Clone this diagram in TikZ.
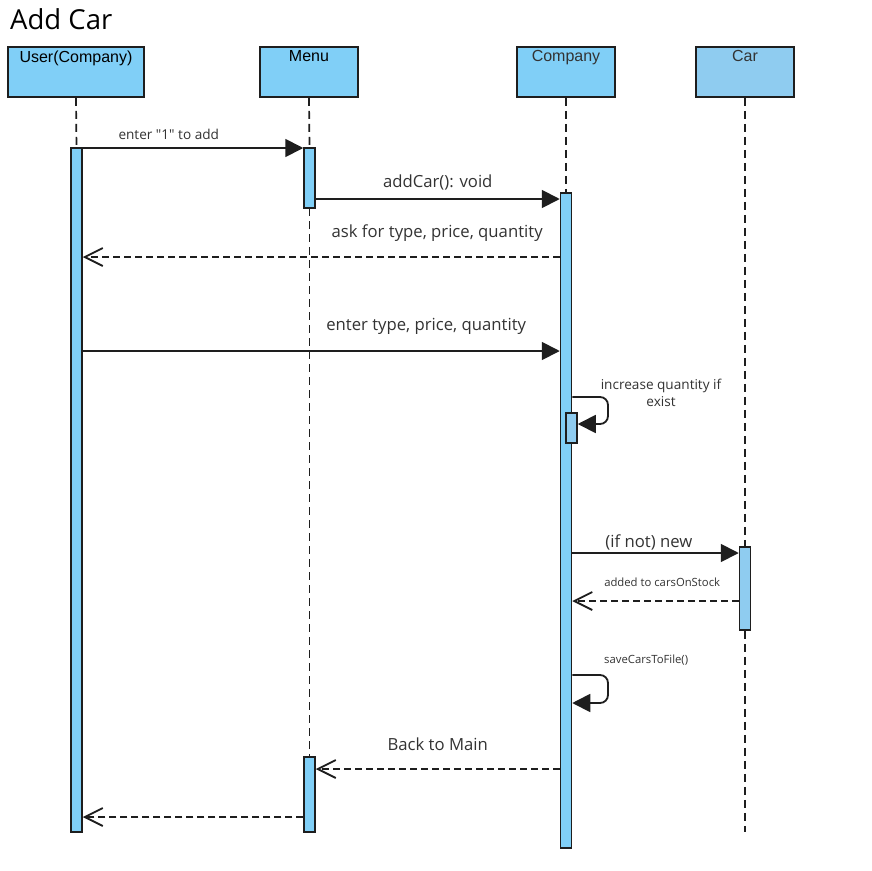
\documentclass[tikz,border=0pt]{standalone}
\usepackage{fontspec}
\setmainfont{Open Sans}[Ligatures=TeXOff]
\newfontfamily\headfont{Liberation Sans}
\usetikzlibrary{arrows.meta,positioning}
\definecolor{HeadBlue}{HTML}{80CFF7}
\definecolor{CarBlue}{HTML}{8FCCF0}
\definecolor{LineInk}{HTML}{1E1E1E}
\definecolor{LabelInk}{HTML}{333333}
\tikzset{
  head/.style={draw=LineInk,line width=1.8pt,fill=HeadBlue,minimum width=98pt,
    minimum height=50pt,inner sep=0pt},
  headlbl/.style={anchor=north,inner sep=4.5pt,font=\headfont\fontsize{16}{18}\selectfont},
  actbar/.style={draw=LineInk,line width=1.5pt,fill=HeadBlue,minimum width=11pt,inner sep=0pt},
  lifeline/.style={LineInk,line width=1.7pt,dash pattern=on 8pt off 5pt},
  callmsg/.style={LineInk,line width=1.8pt,-{Triangle[length=18pt,width=18pt]}},
  replymsg/.style={LineInk,line width=1.8pt,dash pattern=on 7pt off 4pt,
    -{Straight Barb[length=18pt,width=18pt,line width=1.8pt]}},
  msglbl/.style={LabelInk,inner sep=0pt,font=\fontsize{16.7}{20}\selectfont},
  smalllbl/.style={LabelInk,inner sep=0pt,font=\fontsize{13.6}{17}\selectfont},
  tinylbl/.style={LabelInk,inner sep=0pt,font=\fontsize{11.3}{14}\selectfont}
}
\begin{document}
\begin{tikzpicture}[x=1pt,y=-1pt,>=Latex]
  \useasboundingbox (0,0) rectangle (872,870);
  \fill[white] (0,0) rectangle (872,870);
  \node[anchor=west,inner sep=0pt,font=\fontsize{27.5}{32}\selectfont] (title) at (10,19) {Add Car};
  % lifeline heads
  \node[head,minimum width=136pt,label={[headlbl]north:User(Company)}] (user) at (76,72) {};
  \node[head,label={[headlbl]north:Menu}] (menu) at (309,72) {};
  \node[head,label={[headlbl,LabelInk]north:Company}] (comp) at (566,72) {};
  \node[head,fill=CarBlue,label={[headlbl,LabelInk]north:Car}] (car) at (745,72) {};
  \coordinate (carend) at (745,832);
  % lifelines
  \draw[lifeline] (user.south) -- (76.5,148);
  \draw[lifeline] (menu.south) -- (309.5,148);
  \draw[lifeline] (309.5,208) -- (309.5,757);
  \draw[lifeline] (comp.south) -- (566,193);
  \draw[lifeline] (car.south) -- (carend);
  % activation bars
  \node[actbar,minimum height=684pt] (ua) at (76.5,490) {};
  \node[actbar,minimum height=60pt] (ma1) at (309.5,178) {};
  \node[actbar,minimum height=75pt] (ma2) at (309.5,794.5) {};
  \node[actbar,minimum height=655pt] (ca) at (566,520.5) {};
  \node[actbar,fill=CarBlue,minimum height=30pt] (sb) at (571.5,428) {};
  \node[actbar,fill=CarBlue,minimum height=83pt] (cra) at (745,588.5) {};
  % messages
  \draw[callmsg] (ua.east |- 0,148) -- (ma1.west |- 0,148)
    node[pos=0.39,smalllbl,yshift=14pt] {enter "1" to add};
  \draw[callmsg] (ma1.east |- 0,199) -- (ca.west |- 0,199)
    node[midway,msglbl,yshift=17pt] {addCar(): void};
  \draw[replymsg] (ca.west |- 0,257) -- (ua.east |- 0,257)
    node[pos=0.257,msglbl,yshift=24pt] {ask for type, price, quantity};
  \draw[callmsg] (ua.east |- 0,351) -- (ca.west |- 0,351)
    node[pos=0.72,msglbl,yshift=25pt] {enter type, price, quantity};
  \draw[callmsg,rounded corners=8pt] (ca.east |- 0,397) -- (608,397) -- (608,424) -- (sb.east |- 0,424);
  \node[smalllbl,align=center] (inclbl) at (661,393) {increase quantity if\\exist};
  \draw[callmsg] (ca.east |- 0,553) -- (cra.west |- 0,553)
    node[pos=0.46,msglbl,yshift=11pt] {(if not) new};
  \draw[replymsg] (cra.west |- 0,601) -- (ca.east |- 0,601)
    node[pos=0.46,tinylbl,yshift=19pt] {added to carsOnStock};
  \draw[callmsg,rounded corners=8pt] (ca.east |- 0,675) -- (608,675) -- (608,703) -- (ca.east |- 0,703);
  \node[tinylbl,anchor=west] (savelbl) at (604,660) {saveCarsToFile()};
  \draw[replymsg] (ca.west |- 0,769) -- (ma2.east |- 0,769)
    node[midway,msglbl,yshift=25pt] {Back to Main};
  \draw[replymsg] (ma2.west |- 0,817) -- (ua.east |- 0,817);
\end{tikzpicture}
\end{document}
